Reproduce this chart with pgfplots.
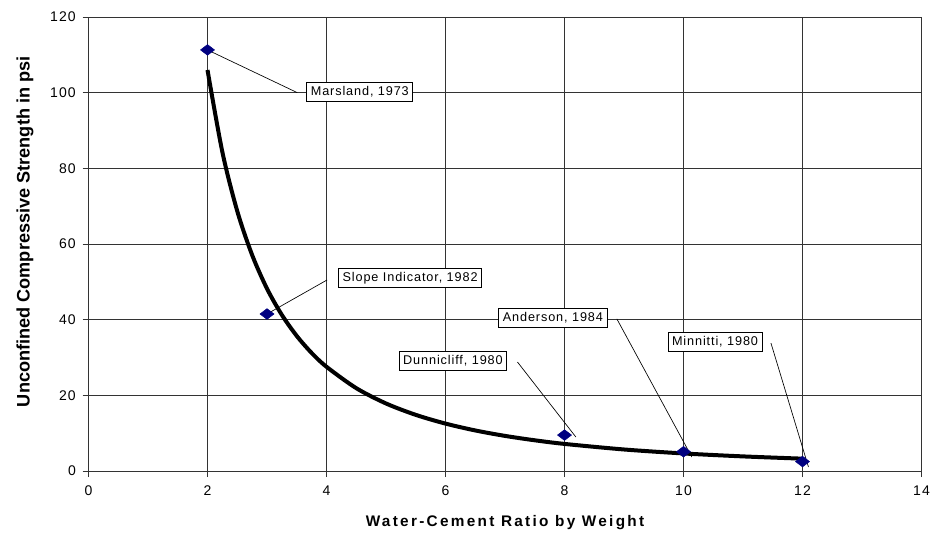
\documentclass[border=0pt]{standalone}
\usepackage{fontspec}
\setmainfont{Liberation Sans}
\newfontfamily\tickfont[LetterSpace=8]{Liberation Sans}
\newfontfamily\xlabfont[LetterSpace=15]{Liberation Sans}
\newfontfamily\notefont[LetterSpace=7]{Liberation Sans}
\usepackage{pgfplots}
\pgfplotsset{compat=1.18}
\definecolor{navy}{HTML}{000080}

\tikzset{callout/.style={draw=black, fill=white, line width=0.6pt,
    font=\notefont\fontsize{9.5}{11}\selectfont,
    inner xsep=3pt, inner ysep=0pt, minimum height=14.25pt},
  leader/.style={black, line width=0.5pt}}

\begin{document}
\begin{tikzpicture}
\begin{axis}[
    scale only axis,
    width=624.75pt, height=340.5pt,
    xmin=0, xmax=14, ymin=0, ymax=120,
    xtick={0,2,...,14}, ytick={0,20,...,120},
    axis x line*=bottom, axis y line*=left,
    axis line style={-, black!80, line width=0.75pt},
    grid=major,
    major grid style={black!80, line width=0.75pt},
    tick align=outside, major tick length=4.5pt,
    tick style={black!80, line width=0.75pt},
    /pgf/number format/assume math mode=true,
    ticklabel style={font=\tickfont\fontsize{10.5}{12}\selectfont},
    xticklabel style={yshift=-3pt},
    yticklabel style={xshift=-1.5pt},
    xlabel={Water-Cement Ratio by Weight},
    ylabel={Unconfined Compressive Strength in psi},
    xlabel style={font=\xlabfont\bfseries\fontsize{11.5}{13}\selectfont,
        at={(axis description cs:0.5,0)}, anchor=center, yshift=-39pt},
    ylabel style={font=\bfseries\fontsize{13.6}{15}\selectfont,
        at={(axis description cs:-0.0762,0.527)}, anchor=center},
    clip=false,
]
% power trend line
\addplot[black, line width=3pt, smooth] coordinates {
    (2,106.0) (2.25,84.3) (2.5,68.7) (2.75,57.1) (3,48.2) (3.25,41.25)
    (3.5,35.7) (3.75,31.2) (4,27.55) (4.5,21.9) (5,17.85) (5.5,14.84)
    (6,12.53) (6.5,10.72) (7,9.28) (7.5,8.12) (8,7.16) (9,5.69)
    (10,4.64) (11,3.86) (12,3.26)};
% measured strengths
\addplot[only marks, mark=diamond*, mark size=4pt, color=navy,
    mark options={xscale=1.75}] coordinates {
    (2,111.3) (3,41.5) (8,9.5) (10,5.1) (12,2.5)};

\draw[leader] (axis cs:2,111.3) -- (axis cs:3.51,100);
\draw[leader] (axis cs:4.01,50.5) -- (axis cs:3,41.5);
\draw[leader] (axis cs:7.21,28.8) -- (axis cs:8.19,9.0);
\draw[leader] (axis cs:8.88,40.2) -- (axis cs:10.14,3.7);
\draw[leader] (axis cs:11.47,33.8) -- (axis cs:12.1,1.06);

\node[callout] at (axis cs:4.56,100.3) {Marsland, 1973};
\node[callout] at (axis cs:5.405,51.05) {Slope Indicator, 1982};
\node[callout] at (axis cs:6.125,29.2) {Dunnicliff, 1980};
\node[callout] at (axis cs:7.805,40.45) {Anderson, 1984};
\node[callout] at (axis cs:10.53,34.2) {Minnitti, 1980};
\end{axis}
\pgfresetboundingbox
\useasboundingbox (-66.375pt,-46.5pt) rectangle (631.875pt,353.25pt);
\end{tikzpicture}
\end{document}
